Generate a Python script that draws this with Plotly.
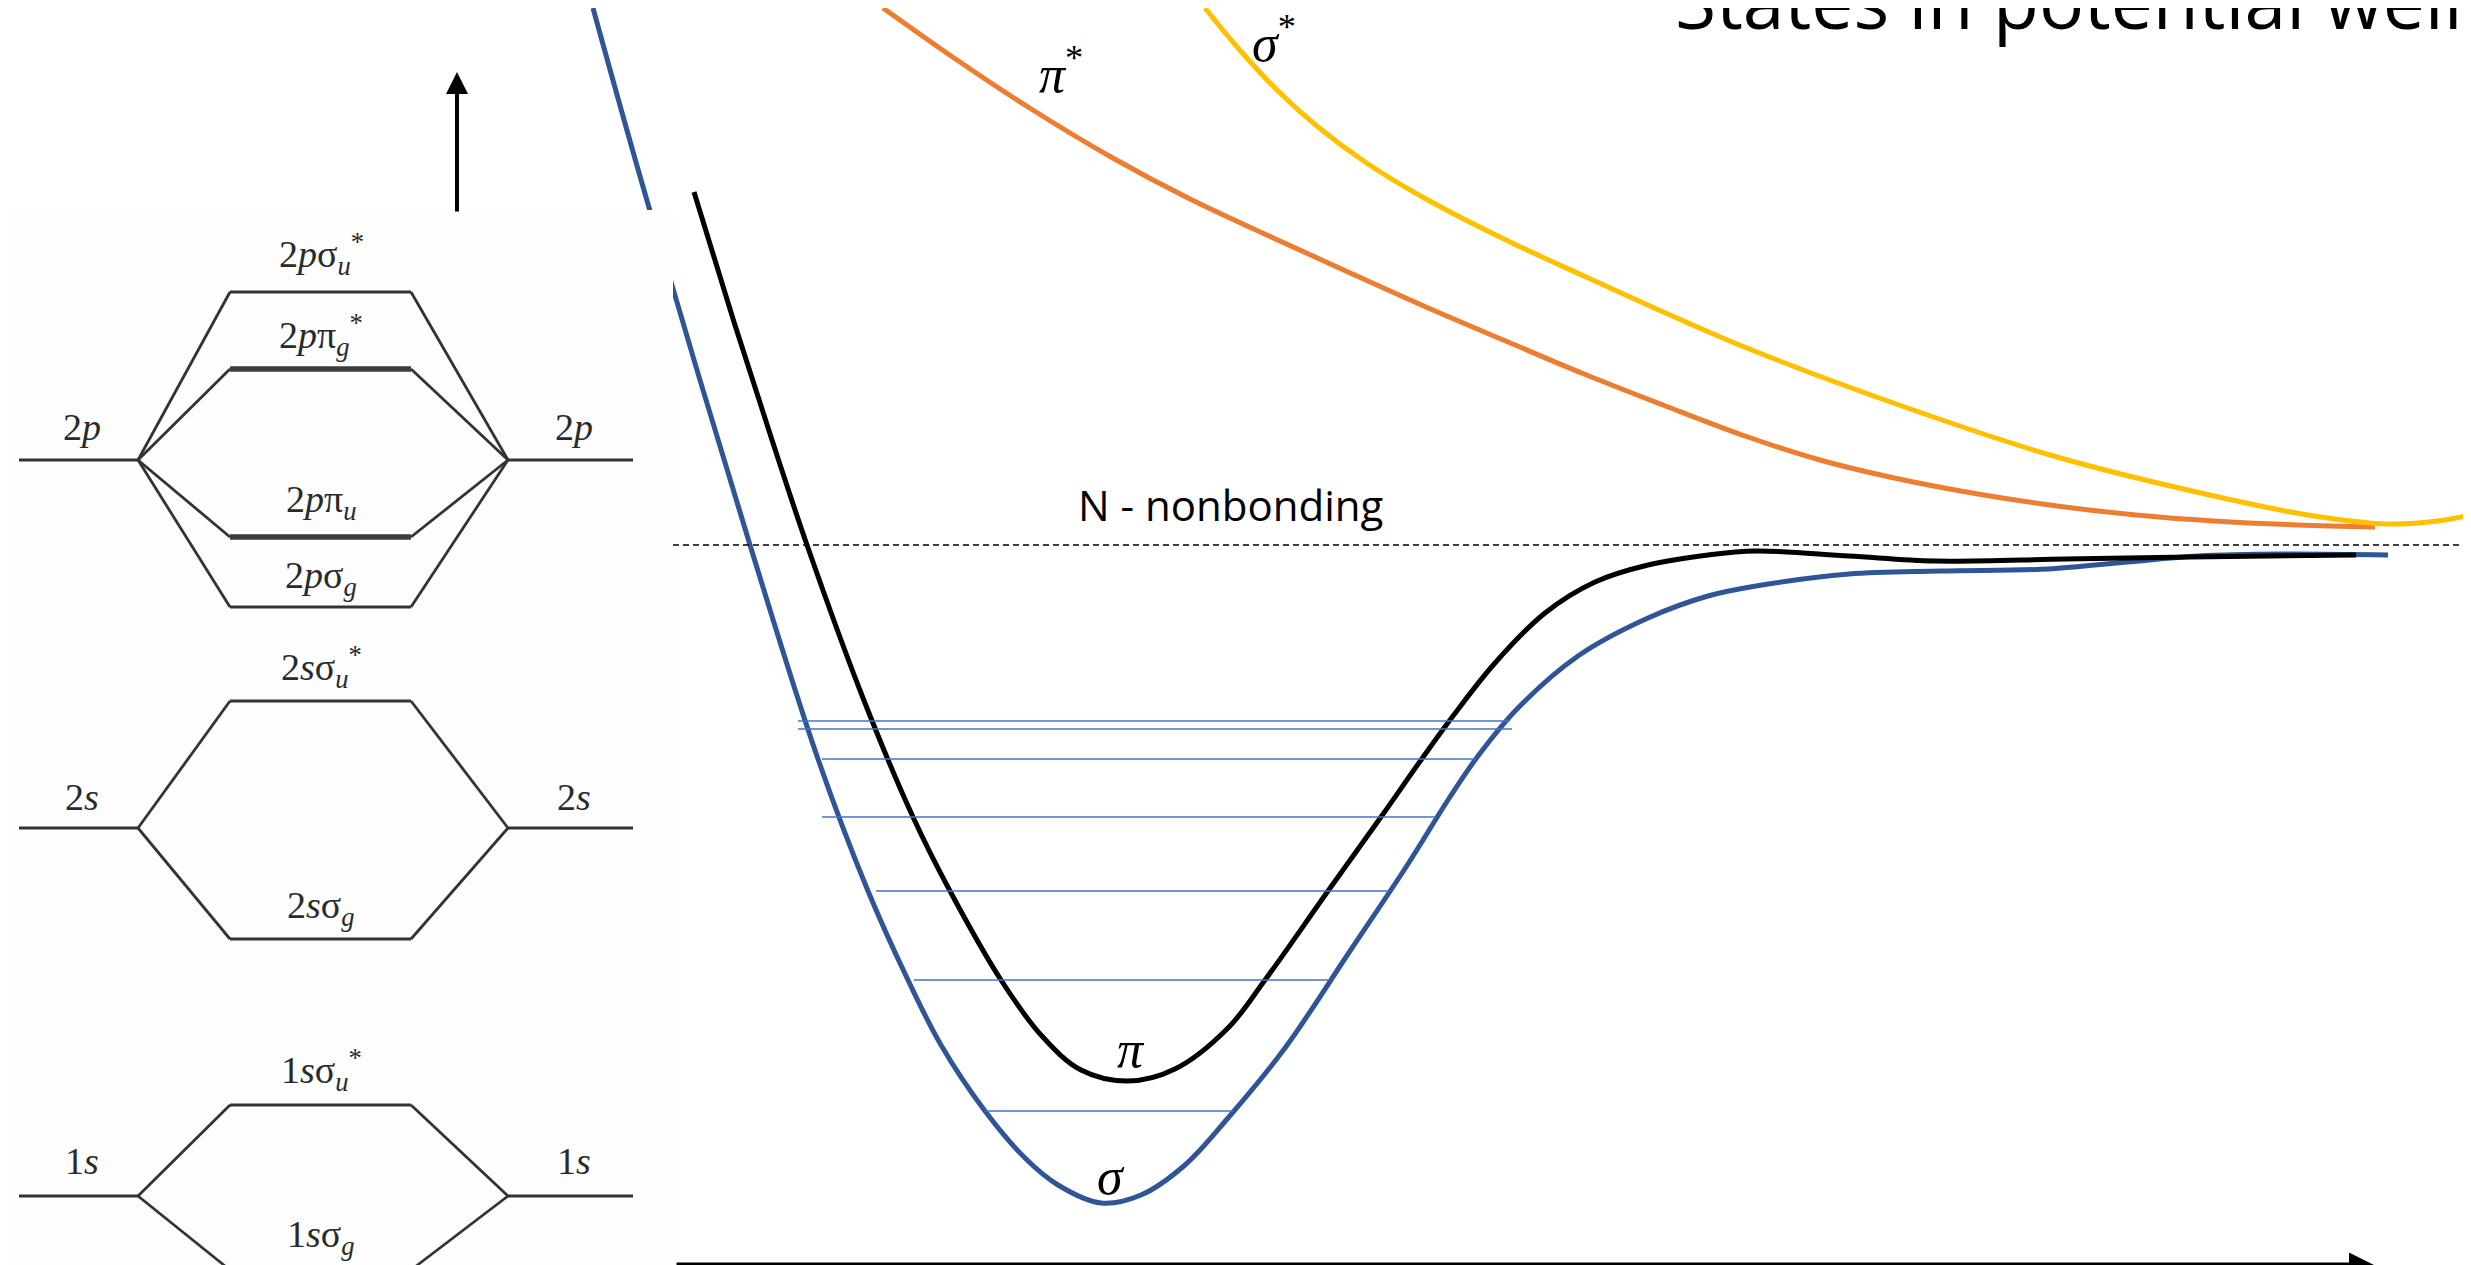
import plotly.graph_objects as go

W, H = 2471, 1265

# ---------------- potential curves (x = internuclear distance, y = energy, drawing units) -------------
sigma_x = [585, 640, 742, 810, 860, 900, 933, 977, 1017, 1050, 1093, 1133, 1177, 1220, 1277, 1340,
           1400, 1440, 1470, 1510, 1570, 1640, 1700, 1748, 1841, 1933, 2040, 2119, 2190, 2274, 2380]
sigma_y = [0, 196, 537, 751, 883, 972, 1037, 1103, 1150, 1177, 1195, 1187, 1157, 1110, 1040, 946,
           856, 792, 748, 700, 648, 610, 588, 578, 566, 563, 561, 554, 548, 546, 547]

pi_x = [686, 726, 764, 799, 855, 905, 942, 993, 1033, 1073, 1120, 1167, 1220, 1257, 1320, 1373,
        1413, 1445, 1487, 1537, 1587, 1640, 1700, 1748, 1841, 1927, 2057, 2181, 2348]
pi_y = [184, 314, 432, 537, 690, 809, 883, 972, 1027, 1062, 1073, 1061, 1020, 972, 883, 809,
        752, 708, 655, 605, 574, 557, 547, 543, 548, 553, 551, 549, 547]

pistar_x = [875, 946, 1020, 1103, 1180, 1261, 1340, 1418, 1500, 1576, 1655, 1734, 1812, 1891, 1970,
            2049, 2128, 2206, 2290, 2367]
pistar_y = [0, 50, 99, 149, 190, 228, 264, 299, 334, 366, 397, 427, 452, 471, 486,
            498, 507, 513, 517, 519]

sigstar_x = [1197, 1230, 1270, 1310, 1360, 1418, 1500, 1576, 1734, 1891, 2049, 2206, 2300, 2379, 2430, 2471]
sigstar_y = [0, 40, 83, 119, 156, 191, 233, 268, 338, 397, 449, 488, 507, 516, 513, 505]

# vibrational levels
vib_y = [713, 721, 751, 809, 883, 972, 1103]
vib_x0 = [790, 790, 814, 814, 868, 906, 977]
vib_x1 = [1502, 1504, 1467, 1428, 1382, 1322, 1225]

nonbonding_y = 537

# ---------------- MO diagram (scan) ----------------
ao_names = ["2p", "2s", "1s"]
ao_y = [452, 820, 1188]
mo_labels = ["2<i>p</i>σ<sub><i>u</i></sub><sup>*</sup>", "2<i>p</i>π<sub><i>g</i></sub><sup>*</sup>",
             "2<i>p</i>π<sub><i>u</i></sub>", "2<i>p</i>σ<sub><i>g</i></sub>",
             "2<i>s</i>σ<sub><i>u</i></sub><sup>*</sup>", "2<i>s</i>σ<sub><i>g</i></sub>",
             "1<i>s</i>σ<sub><i>u</i></sub><sup>*</sup>", "1<i>s</i>σ<sub><i>g</i></sub>"]
mo_parent = [0, 0, 0, 0, 1, 1, 2, 2]
mo_y = [284, 361, 529, 599, 693, 931, 1097, 1262]
mo_thick = [False, True, True, False, False, False, False, False]
mo_label_y = [246, 327, 494, 570, 659, 900, 1062, 1229]
ao_label_y = [419, 789, 1153]

# geometry of the scanned diagram
AO_L0, JL, MO0, MO1, JR, AO_R1 = 11, 130, 222, 403, 500, 625

fig = go.Figure()

def curve(x, y, color, width=5):
    fig.add_trace(go.Scatter(x=x, y=y, mode="lines", hoverinfo="skip",
                             line=dict(color=color, width=width, shape="spline", smoothing=1.0)))

curve(sigma_x, sigma_y, "#2F5597")
curve(pi_x, pi_y, "#000000")
curve(pistar_x, pistar_y, "#ED7D31")
curve(sigstar_x, sigstar_y, "#FFC000")

vx, vy = [], []
for y, a, b in zip(vib_y, vib_x0, vib_x1):
    vx += [a, b, None]
    vy += [y, y, None]
fig.add_trace(go.Scatter(x=vx, y=vy, mode="lines", hoverinfo="skip",
                         line=dict(color="#4472C4", width=1.6)))

shapes = []
# dashed nonbonding level
shapes.append(dict(type="line", xref="x", yref="y", x0=665, x1=W, y0=nonbonding_y, y1=nonbonding_y,
                   line=dict(color="black", width=1.5, dash="6px,4px"), layer="above"))
# scanned page background (covers the blue curve)
shapes.append(dict(type="rect", xref="x", yref="y", x0=0, x1=665, y0=202, y1=H,
                   fillcolor="#fdfdfd", line=dict(width=0), layer="above"))

LC = "#333333"
def seg(x0, y0, x1, y1, w=2.8, c=LC):
    shapes.append(dict(type="line", xref="x", yref="y", x0=x0, y0=y0, x1=x1, y1=y1,
                       line=dict(color=c, width=w), layer="above"))

for yy in ao_y:
    seg(AO_L0, yy, JL, yy)
    seg(JR, yy, AO_R1, yy)
for p, yy, th in zip(mo_parent, mo_y, mo_thick):
    ya = ao_y[p]
    seg(JL, ya, MO0, yy)
    seg(MO1, yy, JR, ya)
    seg(MO0, yy, MO1, yy, w=5.5 if th else 2.8, c="#3c3c3c" if th else LC)

fig.update_layout(shapes=shapes)

ann = []
serif = "Liberation Serif"
for t, yy in zip(mo_labels, mo_label_y):
    ann.append(dict(x=313, y=yy, xref="x", yref="y", text=t, showarrow=False,
                    font=dict(family=serif, size=38, color="#2a2a2a"), xanchor="center", yanchor="middle"))
for n, yy in zip(ao_names, ao_label_y):
    lab = n[0] + "<i>" + n[1] + "</i>"
    ann.append(dict(x=74, y=yy, xref="x", yref="y", text=lab, showarrow=False,
                    font=dict(family=serif, size=38, color="#2a2a2a"), xanchor="center", yanchor="middle"))
    ann.append(dict(x=566, y=yy, xref="x", yref="y", text=lab, showarrow=False,
                    font=dict(family=serif, size=38, color="#2a2a2a"), xanchor="center", yanchor="middle"))

# Greek state labels
greek = [("<i>π</i><sup>*</sup>", 1053, 62), ("<i>σ</i><sup>*</sup>", 1266, 31),
         ("<i>π</i>", 1123, 1041), ("<i>σ</i>", 1103, 1168)]
for t, x, y in greek:
    ann.append(dict(x=x, y=y, xref="x", yref="y", text=t, showarrow=False,
                    font=dict(family=serif, size=52, color="black"), xanchor="center", yanchor="middle"))

ann.append(dict(x=1222, y=496, xref="x", yref="y", text="N - nonbonding", showarrow=False,
                font=dict(family="Open Sans", size=42, color="black"), xanchor="center", yanchor="middle"))

# title (cut at top edge)
ann.append(dict(x=2061 / W, y=1 + 8 / H, xref="paper", yref="paper", text="States in potential well",
                showarrow=False, font=dict(family="Open Sans", size=75, color="black"),
                xanchor="center", yanchor="middle"))

# axis arrows
ann.append(dict(x=449, y=64, ax=449, ay=205, xref="x", yref="y", axref="x", ayref="y", text="",
                showarrow=True, arrowhead=2, arrowsize=1.1, arrowwidth=4, arrowcolor="black", standoff=0))
ann.append(dict(x=2366, y=1257, ax=667, ay=1257, xref="x", yref="y", axref="x", ayref="y", text="",
                showarrow=True, arrowhead=2, arrowsize=1.0, arrowwidth=5, arrowcolor="black", standoff=0))

fig.update_layout(
    annotations=ann,
    width=W, height=H, margin=dict(l=0, r=0, t=0, b=0),
    paper_bgcolor="white", plot_bgcolor="white", showlegend=False,
    xaxis=dict(range=[0, W], visible=False, fixedrange=True),
    yaxis=dict(range=[H, 0], visible=False, fixedrange=True),
)

fig.write_html("out.html")
